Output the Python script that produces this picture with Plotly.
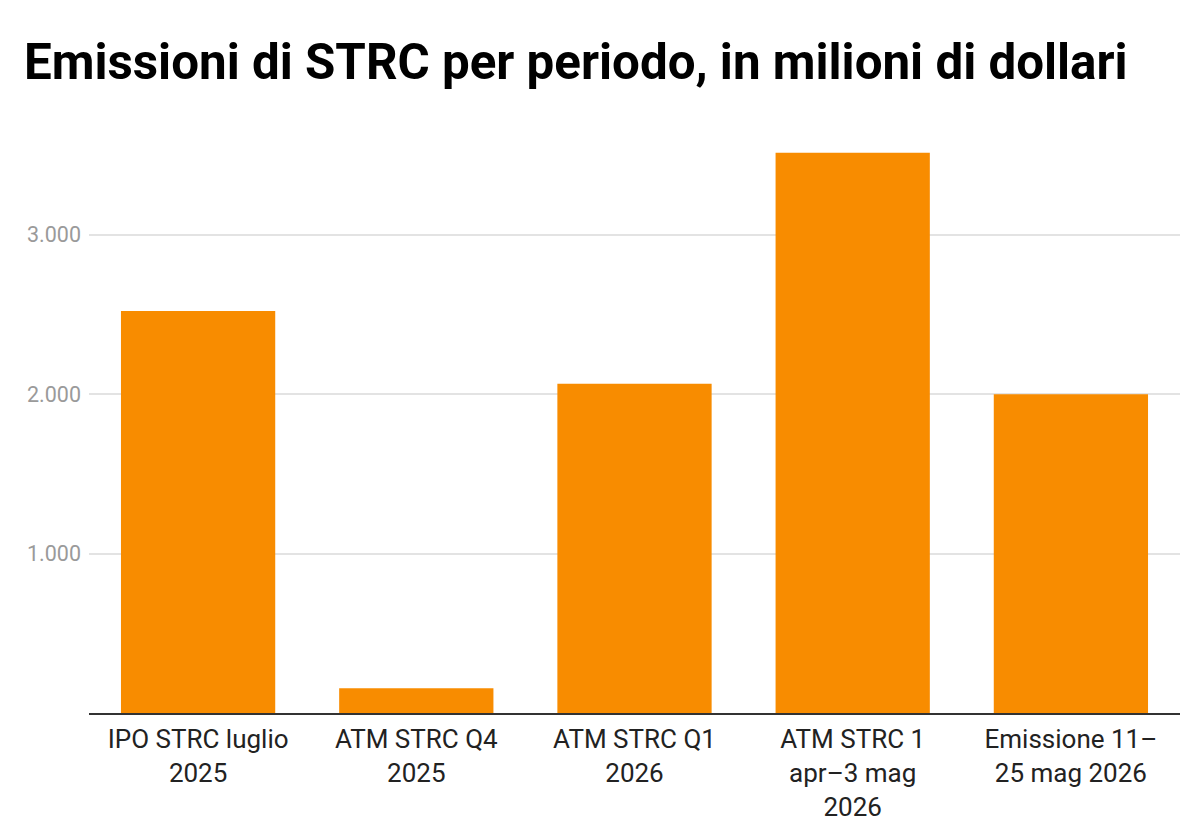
import plotly.graph_objects as go

categories = [
    "IPO STRC luglio<br>2025",
    "ATM STRC Q4<br>2025",
    "ATM STRC Q1<br>2026",
    "ATM STRC 1<br>apr–3 mag<br>2026",
    "Emissione 11–<br>25 mag 2026",
]
values = [2521, 155, 2066, 3514, 2000]
tick_vals = [1000, 2000, 3000]

fig = go.Figure(
    go.Bar(
        x=categories,
        y=values,
        marker=dict(color="#F88C00", line=dict(width=0)),
        hoverinfo="x+y",
    )
)

fig.update_layout(
    width=1200,
    height=837,
    margin=dict(l=81, r=28, t=122, b=132, autoexpand=False),
    paper_bgcolor="white",
    plot_bgcolor="white",
    bargap=0.293,
    separators=",.",
    showlegend=False,
    font=dict(family="Roboto", color="#222222"),
    title=dict(
        text="<b>Emissioni di STRC per periodo, in milioni di dollari</b>",
        font=dict(family="Roboto", size=49.3, color="#000000"),
        x=16 / 1200,
        xanchor="left",
        xref="container",
        y=1 - 36 / 837,
        yanchor="top",
        yref="container",
    ),
)

fig.update_yaxes(
    range=[0, 3657],
    tickvals=tick_vals,
    tickformat=",d",
    showgrid=True,
    gridcolor="#E3E3E3",
    gridwidth=1.5,
    zeroline=False,
    showline=False,
    ticks="",
    ticklabelstandoff=7,
    tickfont=dict(family="Roboto", size=21.5, color="#9A9A9A"),
)
fig.update_xaxes(
    showline=True,
    linecolor="#333333",
    linewidth=1.5,
    ticks="",
    showgrid=False,
    ticklabelstandoff=2,
    tickfont=dict(family="Roboto", size=26, color="#222222"),
)

fig.write_html("out.html")
